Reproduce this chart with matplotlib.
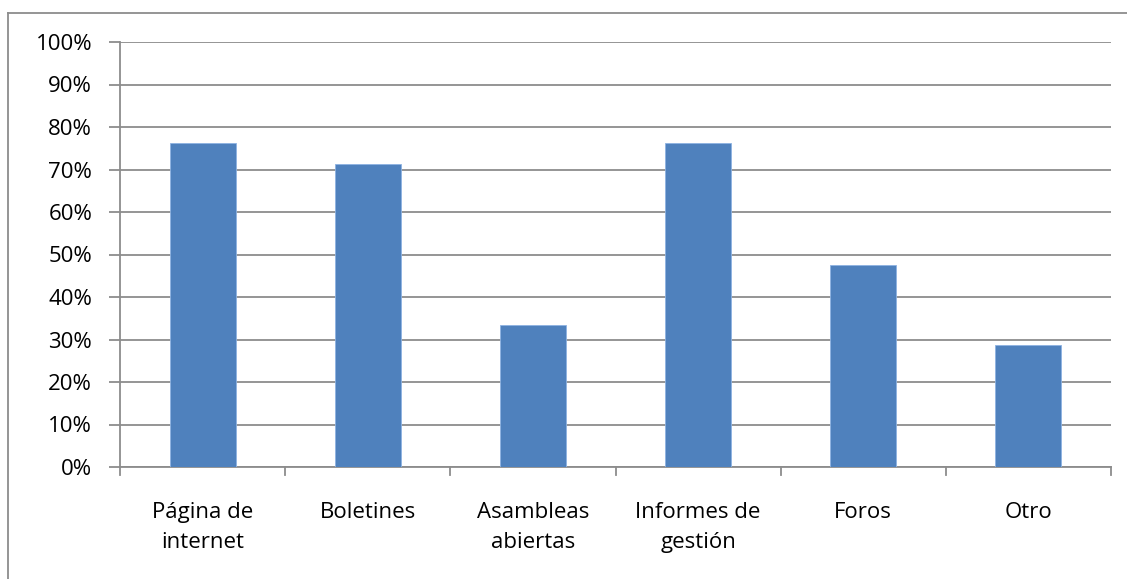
import matplotlib
matplotlib.use("Agg")
import matplotlib.pyplot as plt
from matplotlib.lines import Line2D
from matplotlib.ticker import FuncFormatter, MultipleLocator

categories = ["Página de\ninternet", "Boletines", "Asambleas\nabiertas",
              "Informes de\ngestión", "Foros", "Otro"]
values = [76.2, 71.4, 33.3, 76.2, 47.6, 28.6]

plt.rcParams["font.family"] = ["Open Sans", "DejaVu Sans"]

W, H = 1127, 579
fig = plt.figure(figsize=(W / 100, H / 100), dpi=100)
ax = fig.add_axes([120 / W, 1 - 467 / H, (1111 - 120) / W, (467 - 42) / H])

x = list(range(len(categories)))
ax.bar(x, values, width=0.4, color="#4F81BD", edgecolor="#8DB3E2",
       linewidth=0.6, zorder=3)

ax.set_xlim(-0.5, len(categories) - 0.5)
ax.set_ylim(0, 100)
ax.yaxis.set_major_locator(MultipleLocator(10))
ax.yaxis.set_major_formatter(FuncFormatter(lambda v, _: f"{v:.0f}%"))
ax.grid(axis="y", color="#8C8C8C", linewidth=1.3, zorder=0)

for side in ("top", "right"):
    ax.spines[side].set_visible(False)
for side in ("left", "bottom"):
    ax.spines[side].set_color("#8C8C8C")
    ax.spines[side].set_linewidth(1.3)

ax.tick_params(axis="y", length=8, width=1.3, color="#8C8C8C",
               labelsize=16, pad=12)
ax.set_xticks(x)
ax.set_xticklabels(categories, fontsize=16, linespacing=1.58)
ax.tick_params(axis="x", length=0, pad=25)
# category separators on the horizontal axis
for b in [i - 0.5 for i in range(len(categories) + 1)]:
    ax.plot([b, b], [0, -1.9], color="#8C8C8C", linewidth=1.3,
            clip_on=False, zorder=4)

# chart-area frame
fig.add_artist(Line2D([7.5 / W, 7.5 / W], [0, 1 - 12.5 / H],
                      color="#8C8C8C", linewidth=1.3))
fig.add_artist(Line2D([7.5 / W, 1], [1 - 12.5 / H, 1 - 12.5 / H],
                      color="#8C8C8C", linewidth=1.3))

fig.savefig("out.png", dpi=100, facecolor="white")
